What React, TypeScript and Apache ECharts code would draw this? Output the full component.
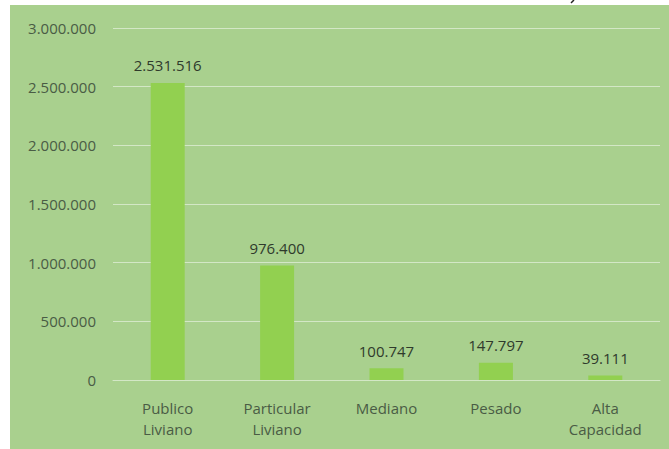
import React, { useEffect, useRef } from "react";
import * as echarts from "echarts";

const categories = ["Publico\nLiviano", "Particular\nLiviano", "Mediano", "Pesado", "Alta\nCapacidad"];
const values = [2531516, 976400, 100747, 147797, 39111];
const yMax = 3000000;
const yInterval = 500000;

const fmt = (v: number) => String(Math.round(v)).replace(/\B(?=(\d{3})+(?!\d))/g, ".");

export default function App() {
  const ref = useRef<HTMLDivElement>(null);
  useEffect(() => {
    const chart = echarts.init(ref.current!, null, { renderer: "svg" });
    const font = "'Open Sans', 'Noto Sans', sans-serif";
    const textColor = "#4a5c45";
    chart.setOption({
      animation: false,
      backgroundColor: "#ffffff",
      graphic: [
        { type: "rect", shape: { x: 10, y: 5, width: 670, height: 450 }, style: { fill: "#a9d08e" }, z: -10 },
        { type: "line", shape: { x1: 574, y1: 0, x2: 571, y2: 3 }, style: { stroke: "#222", lineWidth: 1.5 } },
      ],
      grid: { left: 113, right: 9, top: 28, bottom: 69 },
      xAxis: {
        type: "category",
        data: categories,
        axisLine: { show: true, lineStyle: { color: "#d3e7c6", width: 1 } },
        axisTick: { show: false },
        axisLabel: { color: textColor, fontSize: 15, fontFamily: font, margin: 17, lineHeight: 21 },
      },
      yAxis: {
        type: "value",
        min: 0,
        max: yMax,
        interval: yInterval,
        axisLine: { show: false },
        axisTick: { show: false },
        splitLine: { lineStyle: { color: "#d3e7c6", width: 1 } },
        axisLabel: { color: textColor, fontSize: 15, fontFamily: font, margin: 17, formatter: (v: number) => fmt(v) },
      },
      series: [
        {
          type: "bar",
          data: values,
          barWidth: 34,
          itemStyle: { color: "#92d050" },
          label: {
            show: true,
            position: "top",
            distance: 10,
            color: "#2f3a2c",
            fontSize: 15,
            fontFamily: font,
            formatter: (p: any) => fmt(p.value),
          },
        },
      ],
    });
    return () => chart.dispose();
  }, []);
  return <div ref={ref} style={{ position: "absolute", left: 0, top: 0, width: 669, height: 449 }} />;
}
